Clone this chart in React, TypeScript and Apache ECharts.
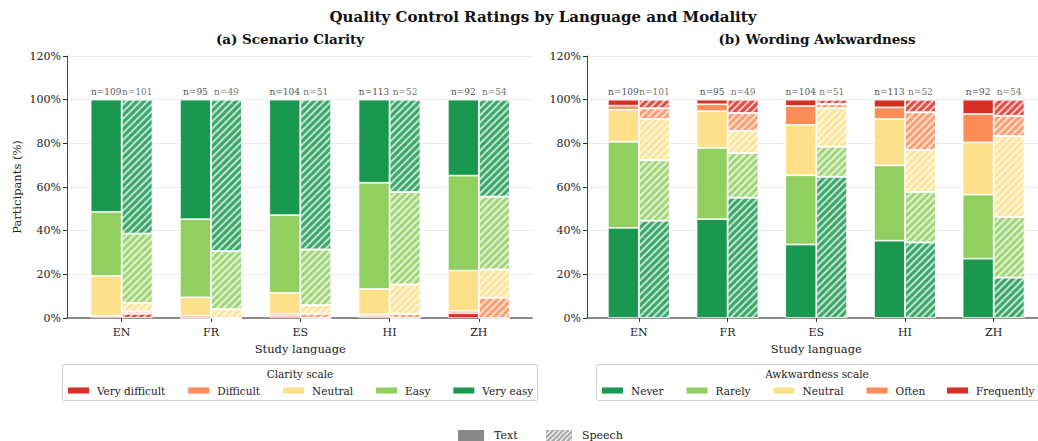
import React, { useEffect, useRef } from "react";
import * as echarts from "echarts";

const categories = ["EN", "FR", "ES", "HI", "ZH"];

const clarityLevels = ["Very difficult", "Difficult", "Neutral", "Easy", "Very easy"];
const clarityColors = ["#d73027", "#fc8d59", "#fee08b", "#91cf60", "#1a9850"];
const clarityTextN = [109, 95, 104, 113, 92];
const claritySpeechN = [101, 49, 51, 52, 54];
// counts per level (rows) per language (columns)
const clarityTextCounts = [
  [1, 0, 1, 1, 2],
  [0, 1, 1, 1, 1],
  [20, 8, 10, 13, 17],
  [32, 34, 37, 55, 40],
  [56, 52, 55, 43, 32],
];
const claritySpeechCounts = [
  [2, 0, 0, 0, 0],
  [1, 0, 1, 1, 5],
  [4, 2, 2, 7, 7],
  [32, 13, 13, 22, 18],
  [62, 34, 35, 22, 24],
];

const awkLevels = ["Never", "Rarely", "Neutral", "Often", "Frequently"];
const awkColors = ["#1a9850", "#91cf60", "#fee08b", "#fc8d59", "#d73027"];
const awkTextN = [109, 95, 104, 113, 92];
const awkSpeechN = [101, 49, 51, 52, 54];
const awkTextCounts = [
  [45, 43, 35, 40, 25],
  [43, 31, 33, 39, 27],
  [16, 16, 24, 24, 22],
  [2, 3, 9, 6, 12],
  [3, 2, 3, 4, 6],
];
const awkSpeechCounts = [
  [45, 27, 33, 18, 10],
  [28, 10, 7, 12, 15],
  [19, 5, 9, 10, 20],
  [5, 4, 1, 9, 5],
  [4, 3, 1, 3, 4],
];

const FONT = "DejaVu Serif";

function buildSeries(
  gi: number,
  levels: string[],
  colors: string[],
  textCounts: number[][],
  speechCounts: number[][],
  textN: number[],
  speechN: number[]
) {
  const out: any[] = [];
  const mods = [
    { key: "text", counts: textCounts, n: textN },
    { key: "speech", counts: speechCounts, n: speechN },
  ];
  mods.forEach((m) => {
    levels.forEach((lv, li) => {
      const itemStyle: any = {
        color: colors[li],
        borderColor: "rgba(255,255,255,0.95)",
        borderWidth: 0.8,
      };
      if (m.key === "speech") {
        itemStyle.opacity = 0.85;
        itemStyle.decal = {
          symbol: "rect",
          symbolSize: 1,
          color: "rgba(255,255,255,0.8)",
          dashArrayX: [1, 0],
          dashArrayY: [1.2, 2.8],
          rotation: -Math.PI / 4,
        };
      }
      const isTop = li === levels.length - 1;
      out.push({
        type: "bar",
        name: lv,
        xAxisIndex: gi,
        yAxisIndex: gi,
        stack: `g${gi}-${m.key}`,
        barWidth: 31,
        barGap: "0%",
        itemStyle,
        emphasis: { disabled: true },
        label: isTop
          ? {
              show: true,
              position: "top",
              distance: 3,
              fontFamily: FONT,
              fontSize: 9,
              color: "#555",
              formatter: (p: any) => "n=" + m.n[p.dataIndex],
            }
          : { show: false },
        data: categories.map((_, ci) => (m.counts[li][ci] / m.n[ci]) * 100),
      });
    });
  });
  return out;
}

// bar grids (category) hold bars, tick marks and labels
function barXAxis(gi: number) {
  return {
    type: "category",
    gridIndex: gi,
    data: categories,
    axisLine: { show: false },
    axisTick: { show: true, alignWithLabel: true, length: 4, lineStyle: { color: "#333" } },
    axisLabel: { fontFamily: FONT, fontSize: 11, color: "#222", margin: 9 },
    splitLine: { show: false },
    name: "Study language",
    nameLocation: "middle",
    nameGap: 25,
    nameTextStyle: { fontFamily: FONT, fontSize: 11.5, color: "#222" },
  };
}

function barYAxis(gi: number) {
  return {
    type: "value",
    gridIndex: gi,
    min: 0,
    max: 120,
    interval: 20,
    show: false,
    splitLine: { show: false },
  };
}

// frame grids hold spines, y labels and grid lines
function frameXAxis(gi: number) {
  return {
    type: "value",
    gridIndex: gi,
    min: 0,
    max: 1,
    axisLine: { show: true, onZero: false, lineStyle: { color: "#666", width: 1.5 } },
    axisTick: { show: false },
    axisLabel: { show: false },
    splitLine: { show: false },
  };
}

function frameYAxis(gi: number, withName: boolean) {
  return {
    type: "value",
    gridIndex: gi,
    min: 0,
    max: 120,
    interval: 20,
    axisLine: { show: true, onZero: false, lineStyle: { color: "#444", width: 1 } },
    axisTick: { show: true, length: 4, lineStyle: { color: "#333" } },
    axisLabel: {
      formatter: "{value}%",
      fontFamily: FONT,
      fontSize: 11,
      color: "#222",
      margin: 6,
    },
    splitLine: { show: true, lineStyle: { color: "#e6e6e6", width: 0.8 } },
    name: withName ? "Participants (%)" : "",
    nameLocation: "middle",
    nameGap: 44,
    nameTextStyle: { fontFamily: FONT, fontSize: 11.5, color: "#222" },
  };
}

function hatchLines(x0: number, y0: number, w: number, h: number, step: number) {
  const els: any[] = [];
  for (let s = x0 - h; s < x0 + w; s += step) {
    const t0 = Math.max(0, x0 - s);
    const t1 = Math.min(h, x0 + w - s);
    if (t1 <= t0) continue;
    els.push({
      type: "line",
      shape: { x1: s + t0, y1: y0 + h - t0, x2: s + t1, y2: y0 + h - t1 },
      style: { stroke: "rgba(255,255,255,0.9)", lineWidth: 1.2 },
      silent: true,
    });
  }
  return els;
}

function legendComp(data: string[], left: number) {
  return {
    data,
    left,
    top: 385,
    padding: 0,
    itemWidth: 23,
    itemHeight: 8,
    itemGap: 21,
    icon: "rect",
    selectedMode: false,
    textStyle: { fontFamily: FONT, fontSize: 10.5, color: "#222", padding: [0, 0, 0, 2] },
  };
}

export default function App() {
  const ref = useRef<HTMLDivElement>(null);
  useEffect(() => {
    if (!ref.current) return;
    const chart = echarts.init(ref.current, undefined, { renderer: "svg" });
    const option: any = {
      animation: false,
      grid: [
        { left: 77, top: 56, width: 446.5, height: 262 },
        { left: 594.5, top: 56, width: 446.5, height: 262 },
        { left: 67, top: 56, width: 465, height: 262 },
        { left: 587, top: 56, width: 465, height: 262 },
      ],
      xAxis: [barXAxis(0), barXAxis(1), frameXAxis(2), frameXAxis(3)],
      yAxis: [barYAxis(0), barYAxis(1), frameYAxis(2, true), frameYAxis(3, false)],
      legend: [
        legendComp(clarityLevels, 66),
        legendComp(awkLevels.slice(0, 4), 600),
        legendComp(awkLevels.slice(4), 945),
      ],
      graphic: [
        {
          type: "text",
          x: 543,
          y: 17,
          style: {
            text: "Quality Control Ratings by Language and Modality",
            font: `bold 15px "${FONT}"`,
            fill: "#111",
            align: "center",
            verticalAlign: "middle",
          },
        },
        {
          type: "text",
          x: 290,
          y: 39,
          style: {
            text: "(a) Scenario Clarity",
            font: `bold 13.5px "${FONT}"`,
            fill: "#111",
            align: "center",
            verticalAlign: "middle",
          },
        },
        {
          type: "text",
          x: 817,
          y: 39,
          style: {
            text: "(b) Wording Awkwardness",
            font: `bold 13.5px "${FONT}"`,
            fill: "#111",
            align: "center",
            verticalAlign: "middle",
          },
        },
        {
          type: "rect",
          z: -1,
          shape: { x: 62.5, y: 364.5, width: 475, height: 36, r: 2 },
          style: { fill: "#fff", stroke: "#d0d0d0", lineWidth: 1 },
        },
        {
          type: "text",
          x: 300,
          y: 374,
          style: {
            text: "Clarity scale",
            font: `10.5px "${FONT}"`,
            fill: "#222",
            align: "center",
            verticalAlign: "middle",
          },
        },
        {
          type: "rect",
          z: -1,
          shape: { x: 596.5, y: 364.5, width: 460, height: 36, r: 2 },
          style: { fill: "#fff", stroke: "#d0d0d0", lineWidth: 1 },
        },
        {
          type: "text",
          x: 817,
          y: 374,
          style: {
            text: "Awkwardness scale",
            font: `10.5px "${FONT}"`,
            fill: "#222",
            align: "center",
            verticalAlign: "middle",
          },
        },
        {
          type: "rect",
          shape: { x: 458, y: 430, width: 26, height: 11 },
          style: { fill: "#888" },
        },
        {
          type: "text",
          x: 494,
          y: 435,
          style: { text: "Text", font: `11px "${FONT}"`, fill: "#222", verticalAlign: "middle" },
        },
        {
          type: "rect",
          shape: { x: 546, y: 430, width: 26, height: 11 },
          style: { fill: "#aaa" },
        },
        ...hatchLines(546, 430, 26, 11, 5),
        {
          type: "text",
          x: 582,
          y: 435,
          style: { text: "Speech", font: `11px "${FONT}"`, fill: "#222", verticalAlign: "middle" },
        },
      ],
      series: [
        ...buildSeries(0, clarityLevels, clarityColors, clarityTextCounts, claritySpeechCounts, clarityTextN, claritySpeechN),
        ...buildSeries(1, awkLevels, awkColors, awkTextCounts, awkSpeechCounts, awkTextN, awkSpeechN),
      ],
    };
    chart.setOption(option);
    return () => chart.dispose();
  }, []);
  return (
    <div
      ref={ref}
      style={{ position: "absolute", left: 0, top: 0, width: 1038, height: 441, background: "#fff" }}
    />
  );
}
